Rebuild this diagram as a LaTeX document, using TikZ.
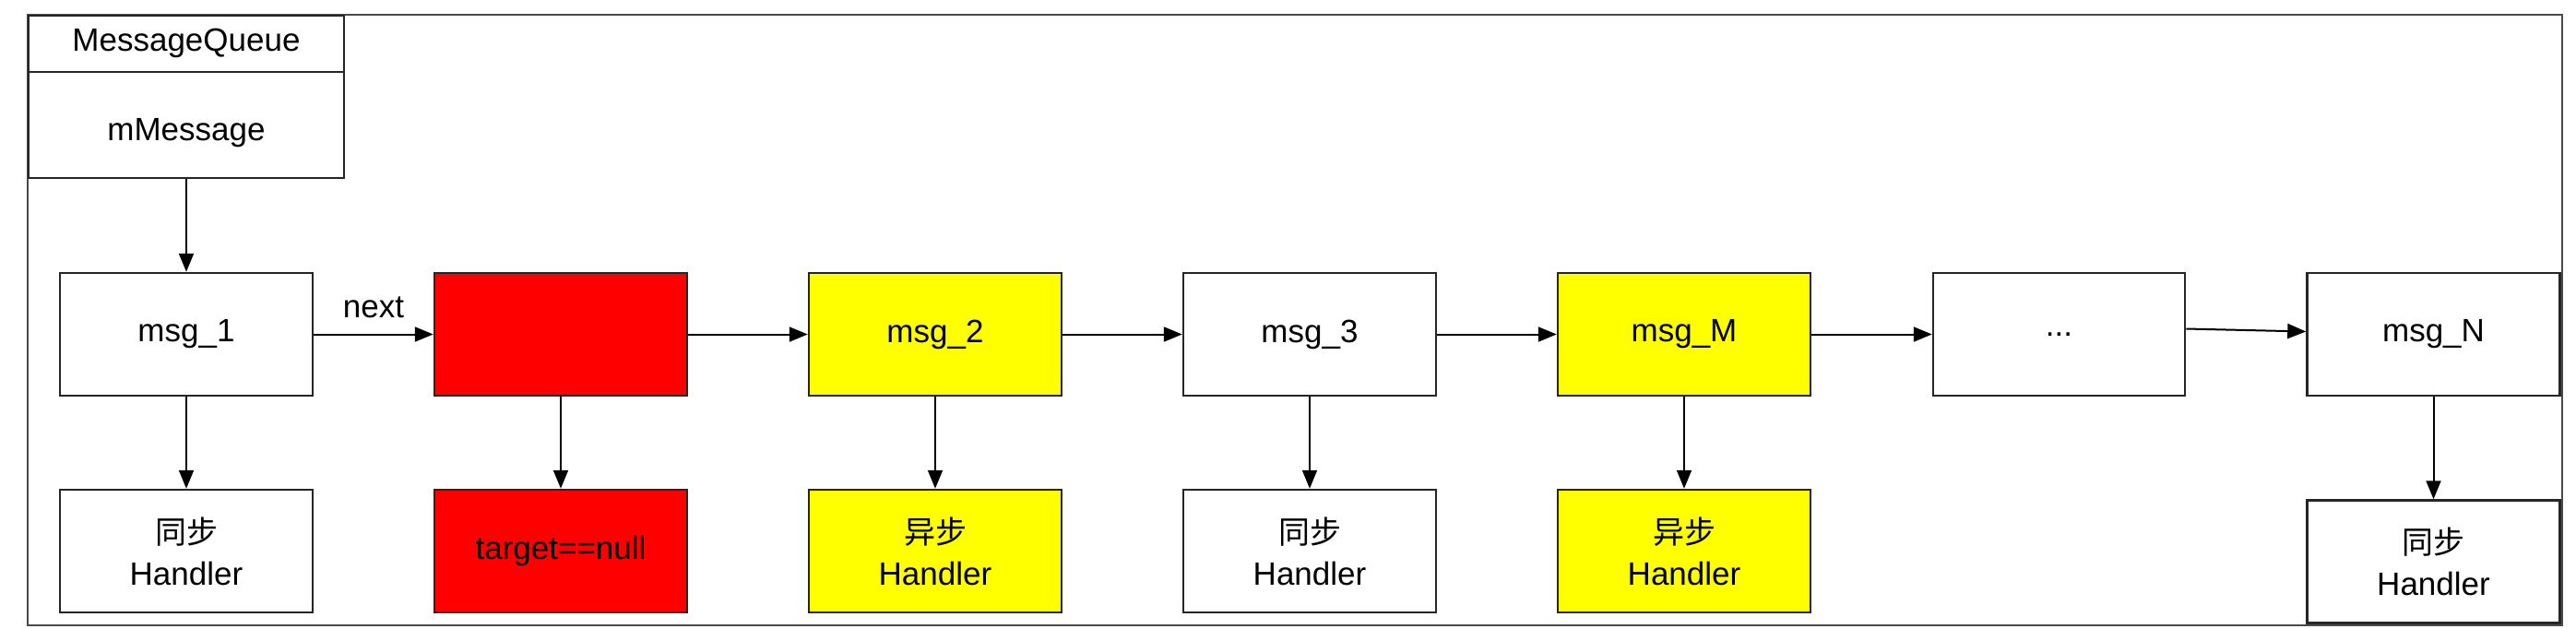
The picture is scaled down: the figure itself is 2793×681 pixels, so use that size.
\documentclass[tikz,border=0pt]{standalone}
\usepackage{fontspec}
\setmainfont{Liberation Sans}
\newfontfamily\cjk{Noto Sans CJK SC}
\usetikzlibrary{arrows.meta}
\definecolor{boxline}{HTML}{262626}
\definecolor{frameline}{HTML}{4A4A4A}
\definecolor{redfill}{HTML}{FF0000}
\definecolor{yelfill}{HTML}{FFFF00}
\tikzset{
  msgbox/.style={draw=boxline, line width=2.5pt, minimum width=274pt, minimum height=133pt, inner sep=0pt, font=\fontsize{35}{45}\selectfont, text=black},
  hbox/.style={msgbox, align=center},
  redbox/.style={fill=redfill},
  yelbox/.style={fill=yelfill},
  link/.style={draw=black, line width=2pt, -{Triangle[length=20pt,width=16pt]}},
}
\newcommand{\tb}[1]{{\cjk\fontsize{34}{45}\selectfont #1}\\Handler}
\begin{document}
\begin{tikzpicture}[x=1pt,y=-1pt]
\useasboundingbox[fill=white] (0,0) rectangle (2793,681);
% outer frame
\draw[frameline, line width=2pt] (30,16) rectangle (2778,678);
% MessageQueue box
\node[draw=boxline, line width=2.5pt, minimum width=342pt, minimum height=176pt, inner sep=0pt] (mq) at (202,105) {};
\draw[boxline, line width=2.5pt] ([yshift=-62pt]mq.north west) -- ([yshift=-62pt]mq.north east);
\node[font=\fontsize{35}{45}\selectfont] (mqt) at ([yshift=-31pt]mq.north) {MessageQueue};
\node[font=\fontsize{35}{45}\selectfont] (mqm) at ([yshift=-128pt]mq.north) {mMessage};
% top row
\node[msgbox] (m1) at (202,362.5) {msg\_1};
\node[msgbox, redbox] (r) at (608,362.5) {};
\node[msgbox, yelbox] (m2) at (1014,362.5) {msg\_2};
\node[msgbox] (m3) at (1420,362.5) {msg\_3};
\node[msgbox, yelbox] (mM) at (1826,362.5) {msg\_M};
\node[msgbox, minimum width=273pt] (dots) at (2232.5,362.5) {...};
\node[msgbox] (mN) at (2638.5,362.5) {msg\_N};
% handler row
\node[hbox] (h1) at (202,597.5) {\tb{同步}};
\node[msgbox, redbox] (hr) at (608,597.5) {target==null};
\node[hbox, yelbox] (h2) at (1014,597.5) {\tb{异步}};
\node[hbox] (h3) at (1420,597.5) {\tb{同步}};
\node[hbox, yelbox] (hM) at (1826,597.5) {\tb{异步}};
\node[hbox] (hN) at (2638.5,609) {\tb{同步}};
% connectors
\draw[link] (mq) -- (m1);
\draw[link] (m1) -- node[above=17pt, inner sep=0pt, font=\fontsize{35}{45}\selectfont] {next} (r);
\draw[link] (r) -- (m2);
\draw[link] (m2) -- (m3);
\draw[link] (m3) -- (mM);
\draw[link] (mM) -- (dots);
\draw[link] ([yshift=6pt]dots.east) -- ([yshift=3pt]mN.west);
\draw[link] (m1) -- (h1);
\draw[link] (r) -- (hr);
\draw[link] (m2) -- (h2);
\draw[link] (m3) -- (h3);
\draw[link] (mM) -- (hM);
\draw[link] (mN) -- (hN);
\end{tikzpicture}
\end{document}
